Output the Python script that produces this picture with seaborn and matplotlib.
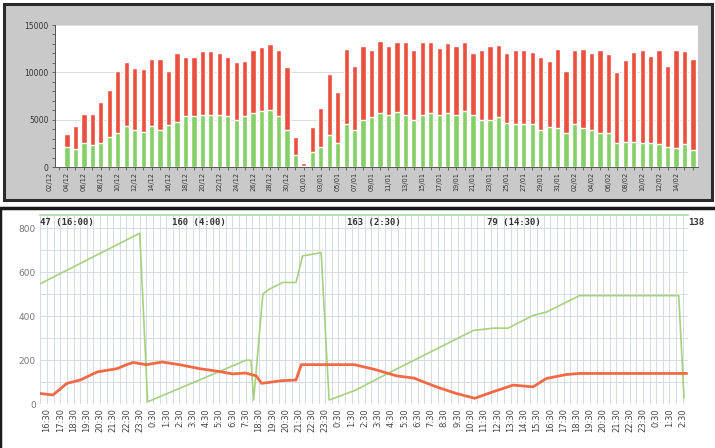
import matplotlib
matplotlib.use("Agg")
import matplotlib.pyplot as plt
import seaborn as sns
import pandas as pd
import numpy as np
from matplotlib.patches import Rectangle
from matplotlib.ticker import MultipleLocator

sns.set_style("white")

# ---- top chart: daily stacked bars ----
days = list(range(1, 76))
total = [3500, 4300, 5600, 5550, 6900, 8150, 10100, 11100, 10500, 10350,
         11400, 11400, 10100, 12000, 11600, 11600, 12300, 12300, 12000, 11600,
         11050, 11200, 12400, 12650, 13000, 12400, 10600, 3200, 400, 4200,
         6200, 9850, 7900, 12500, 10700, 12750, 12400, 13300, 12750, 13200,
         13200, 12350, 13250, 13250, 12600, 13050, 12750, 13200, 12000, 12400,
         12750, 12850, 12000, 12400, 12400, 12100, 11600, 11200, 12500, 10100,
         12350, 12500, 12000, 12350, 11900, 10000, 11350, 12100, 12350, 11700,
         12350, 10700, 12350, 12250, 11400]
green = [2100, 1950, 2500, 2300, 2500, 3200, 3550, 4300, 3900, 3700,
         4350, 3900, 4400, 4800, 5400, 5400, 5500, 5500, 5500, 5400,
         5000, 5400, 5700, 5900, 6000, 5400, 3900, 1250, 150, 1600,
         2100, 3350, 2500, 4550, 3900, 5000, 5300, 5700, 5500, 5850,
         5500, 5000, 5500, 5700, 5500, 5700, 5500, 5950, 5500, 5000,
         5000, 5300, 4600, 4550, 4550, 4550, 3900, 4250, 4100, 3550,
         4550, 4100, 3900, 3550, 3600, 2500, 2650, 2650, 2500, 2500,
         2400, 2100, 2050, 2400, 1750]
label_days = list(range(-1, 74, 2))
date_labels = ["02/12", "04/12", "06/12", "08/12", "10/12", "12/12", "14/12",
               "16/12", "18/12", "20/12", "22/12", "24/12", "26/12", "28/12",
               "30/12", "01/01", "03/01", "05/01", "07/01", "09/01", "11/01",
               "13/01", "15/01", "17/01", "19/01", "21/01", "23/01", "25/01",
               "27/01", "29/01", "31/01", "02/02", "04/02", "06/02", "08/02",
               "10/02", "12/02", "14/02"]

# ---- bottom chart: two time series ----
time_labels = ["16:30", "17:30", "18:30", "19:30", "20:30", "21:30", "22:30", "23:30",
               "0:30", "1:30", "2:30", "3:30", "4:30", "5:30", "6:30", "7:30",
               "18:30", "19:30", "20:30", "21:30", "22:30", "23:30",
               "0:30", "1:30", "2:30", "3:30", "4:30", "5:30", "6:30", "7:30",
               "8:30", "9:30", "10:30", "11:30", "12:30", "13:30", "14:30", "15:30",
               "16:30", "17:30", "18:30", "19:30", "20:30", "21:30", "22:30", "23:30",
               "0:30", "1:30", "2:30"]
green_t = [-0.55, 7.0, 7.6, 11.5, 15.0, 15.4, 15.6, 16.3, 16.8, 17.8, 18.8, 19.3,
           19.9, 20.7, 21.3, 23.3, 25.6, 32.2, 33.7, 34.8, 36.7, 37.7, 40.2, 47.7, 48.1]
green_v = [546, 777, 10, 109, 199, 199, 18, 501, 523, 553, 553, 674,
           680, 689, 18, 63, 135, 335, 345, 345, 403, 418, 493, 493, 26]
red_t = [-0.55, 0.45, 1.5, 2.5, 3.8, 5.3, 6.0, 6.5, 7.5, 8.7, 10.0, 11.5, 13.0,
         14.0, 15.0, 15.8, 16.2, 17.7, 18.8, 19.2, 21.5, 23.2, 24.7, 26.4, 27.7,
         29.4, 30.9, 32.3, 33.7, 35.2, 36.7, 37.7, 39.2, 40.2, 48.3]
red_v = [48, 41, 94, 109, 146, 161, 179, 189, 179, 191, 179, 161, 148,
         137, 141, 128, 94, 106, 109, 179, 179, 179, 158, 128, 118,
         78, 48, 26, 56, 86, 78, 116, 134, 139, 139]
top_notes = ["47 (16:00)", "160 (4:00)", "163 (2:30)", "79 (14:30)", "138"]
note_pos = [0.0, 0.204, 0.474, 0.69, 1.0]

W, H = 715, 448
fig = plt.figure(figsize=(W / 100, H / 100), dpi=100)


def fbox(x0, y0, x1, y1):
    return [x0 / W, 1 - y1 / H, (x1 - x0) / W, (y1 - y0) / H]


# panel frames (behind the axes)
fig.add_artist(Rectangle((4 / W, 1 - 200 / H), 708 / W, 196 / H, transform=fig.transFigure,
                         facecolor="#c9c9c9", edgecolor="#2a2a2a", linewidth=2.2, zorder=-5))
fig.add_artist(Rectangle((0, -0.01), 1.01, 1.01 - 208 / H, transform=fig.transFigure,
                         facecolor="white", edgecolor="#1a1a1a", linewidth=2.5, zorder=-5))

# ---- top axes ----
ax1 = fig.add_axes(fbox(55, 25, 698, 167))
df_bar = pd.DataFrame({"day": days, "total": total, "green": green})
sns.barplot(data=df_bar, x="day", y="total", native_scale=True, color="#ea4f3f",
            saturation=1, width=0.62, errorbar=None, ax=ax1)
sns.barplot(data=df_bar, x="day", y="green", native_scale=True, color="#86cf68",
            saturation=1, width=0.62, errorbar=None, ax=ax1)
ax1.set_facecolor("white")
ax1.set_xlim(-0.42, 75.6)
ax1.set_ylim(0, 15000)
ax1.set_yticks([0, 5000, 10000, 15000])
ax1.set_yticklabels(["0", "5000", "10000", "15000"], fontsize=5.5, color="#333333")
ax1.yaxis.set_minor_locator(MultipleLocator(1000))
ax1.tick_params(axis="y", which="both", direction="out", length=2.5, width=0.6,
                color="#555555", left=True, pad=2)
ax1.grid(axis="y", color="#d8d8d8", linewidth=0.6)
ax1.set_axisbelow(True)
ax1.set_xticks(label_days[1:])
ax1.set_xticklabels(date_labels[1:], rotation=90, fontsize=4.8, color="#333333")
ax1.xaxis.set_minor_locator(MultipleLocator(1))
ax1.tick_params(axis="x", which="both", direction="out", length=2, width=0.6,
                color="#555555", bottom=True, pad=1.5)
ax1.annotate(date_labels[0], xy=(label_days[0], 0), xycoords=("data", "axes fraction"),
             xytext=(0, -3.5), textcoords="offset points", rotation=90, ha="center",
             va="top", fontsize=4.8, color="#333333", annotation_clip=False)
ax1.set_xlabel("")
ax1.set_ylabel("")
for s in ["top", "right"]:
    ax1.spines[s].set_visible(False)
for s in ["left", "bottom"]:
    ax1.spines[s].set_color("#555555")
    ax1.spines[s].set_linewidth(0.7)

# ---- bottom axes ----
ax2 = fig.add_axes(fbox(40, 215, 688, 404))
ax2.patch.set_alpha(0)
df_g = pd.DataFrame({"t": green_t, "v": green_v})
df_r = pd.DataFrame({"t": red_t, "v": red_v})
sns.lineplot(data=df_g, x="t", y="v", color="#a6d17f", linewidth=1.2,
             estimator=None, sort=False, ax=ax2)
sns.lineplot(data=df_r, x="t", y="v", color="#ef6a45", linewidth=2.0,
             estimator=None, sort=False, ax=ax2)
ax2.set_xlim(-0.53, 48.4)
ax2.set_ylim(0, 860)
ax2.set_xticks(range(len(time_labels)))
ax2.set_xticklabels(time_labels, rotation=90, fontsize=6, color="#444444")
ax2.xaxis.set_minor_locator(MultipleLocator(0.5))
ax2.set_yticks([0, 200, 400, 600, 800])
ax2.set_yticklabels(["0", "200", "400", "600", "800"], fontsize=6.5, color="#777777")
ax2.yaxis.set_minor_locator(MultipleLocator(100))
ax2.tick_params(axis="both", which="both", length=0, pad=3)
ax2.grid(which="both", color="#d3dbe6", linewidth=0.7)
ax2.set_axisbelow(True)
ax2.set_xlabel("")
ax2.set_ylabel("")
for s in ["left", "right", "bottom"]:
    ax2.spines[s].set_visible(False)
ax2.spines["top"].set_color("#a8dba0")
ax2.spines["top"].set_linewidth(1.2)
for txt, px in zip(top_notes, note_pos):
    ax2.text(px, 0.985, txt, transform=ax2.transAxes, ha="left", va="top",
             fontsize=6.5, family="DejaVu Sans Mono", fontweight="bold", color="#333333")

fig.savefig("out.png", dpi=100)
